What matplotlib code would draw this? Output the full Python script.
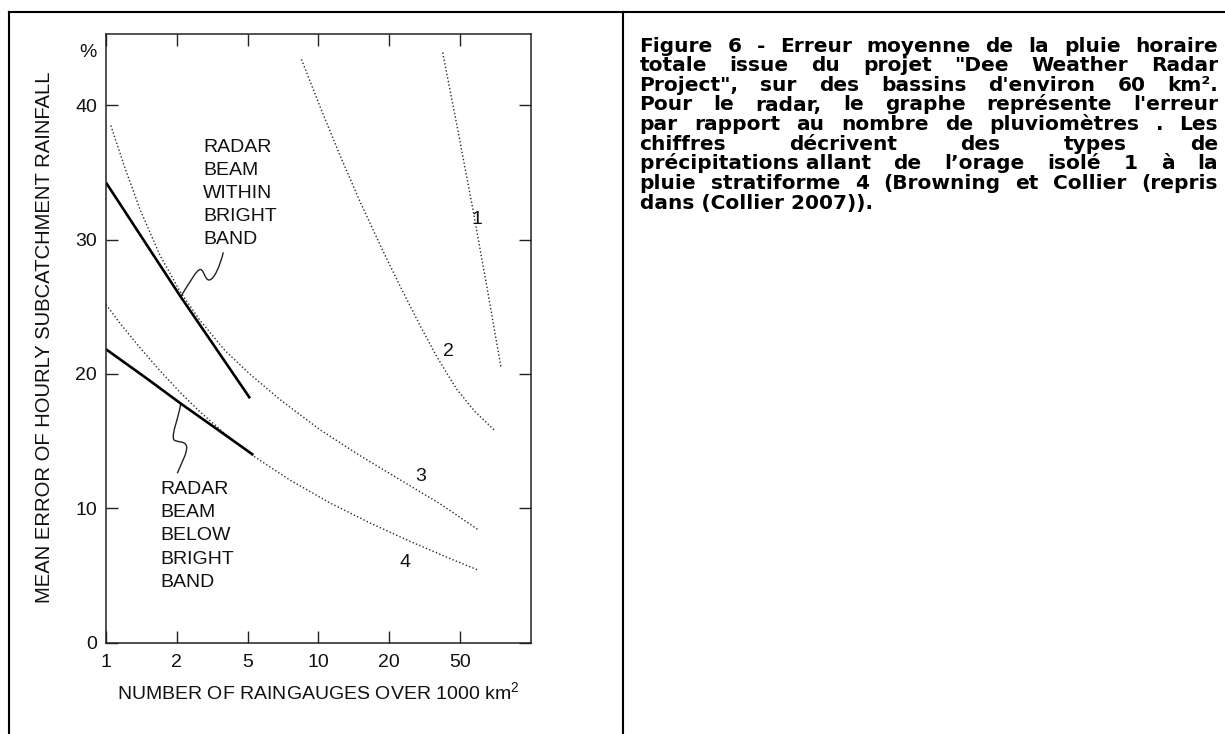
import numpy as np
import matplotlib
matplotlib.use("Agg")
import matplotlib.pyplot as plt
from matplotlib.lines import Line2D
from matplotlib.path import Path
from matplotlib.patches import PathPatch
from matplotlib.ticker import NullLocator, FixedLocator, FixedFormatter

plt.rcParams['font.family'] = ['Liberation Sans', 'DejaVu Sans']
plt.rcParams['mathtext.fontset'] = 'custom'
plt.rcParams['mathtext.rm'] = 'Liberation Sans'
plt.rcParams['mathtext.it'] = 'Liberation Sans'

# ---------------- data ----------------
x_ticks = [1, 2, 5, 10, 20, 50]
x_scale_nodes = [1, 2, 5, 10, 20, 50, 100]
y_ticks = [0, 10, 20, 30, 40]

# curve 1 (isolated storm)
curve1_x = [39.95, 48.6, 56.8, 65.4, 74.6]
curve1_y = [43.92, 38.16, 32.20, 26.25, 20.54]

# curve 2
curve2_x = [8.47, 10.16, 12.36, 15.03, 18.88, 22.99, 29.89, 37.07, 47.76, 57.95, 69.92]
curve2_y = [43.41, 39.90, 36.25, 32.82, 29.09, 26.55, 23.57, 21.27, 18.88, 17.18, 15.82]

# curve 3
curve3_x = [1.048, 1.2045, 1.395, 1.697, 2.085, 2.70, 3.73, 5.12, 6.87, 10.16, 15.03, 23.0, 38.6, 59.9]
curve3_y = [38.49, 35.32, 32.24, 28.82, 26.14, 23.98, 21.74, 19.97, 18.08, 15.84, 13.91, 12.12, 10.33, 8.38]

# curve 4 (stratiform)
curve4_x = [1.0, 1.147, 1.395, 1.697, 2.085, 2.70, 3.73, 5.29, 7.57, 11.20, 16.57, 26.18, 43.9, 59.4]
curve4_y = [25.16, 23.76, 21.94, 20.23, 18.63, 17.17, 15.54, 13.89, 12.09, 10.39, 8.90, 7.53, 6.25, 5.41]

# radar, beam within bright band
within_x = [1.0, 2.10, 5.12]
within_y = [34.24, 25.75, 18.18]

# radar, beam below bright band
below_x = [1.0, 1.5, 2.10, 3.35, 5.29]
below_y = [21.83, 19.62, 17.80, 15.90, 13.96]

curve_labels = ['1', '2', '3', '4']
curve_label_x = [59.2, 43.0, 30.1, 24.6]
curve_label_y = [31.5, 21.65, 12.35, 5.94]

within_text = ['RADAR', 'BEAM', 'WITHIN', 'BRIGHT', 'BAND']
below_text = ['RADAR', 'BEAM', 'BELOW', 'BRIGHT', 'BAND']

caption_lines = [
    ['Figure', '6', '-', 'Erreur', 'moyenne', 'de', 'la', 'pluie', 'horaire'],
    ['totale', 'issue', 'du', 'projet', '"Dee', 'Weather', 'Radar'],
    ['Project",', 'sur', 'des', 'bassins', "d'environ", '60', 'km².'],
    ['Pour', 'le', 'radar,', 'le', 'graphe', 'représente', "l'erreur"],
    ['par', 'rapport', 'au', 'nombre', 'de', 'pluviomètres', '.', 'Les'],
    ['chiffres', 'décrivent', 'des', 'types', 'de'],
    ['précipitations allant', 'de', 'l’orage', 'isolé', '1', 'à', 'la'],
    ['pluie', 'stratiforme', '4', '(Browning', 'et', 'Collier', '(repris'],
    ['dans (Collier 2007)).'],
]

# ---------------- figure ----------------
W, H = 1225, 734
fig = plt.figure(figsize=(W / 100, H / 100), dpi=100)
fig.patch.set_facecolor('white')

ax_left, ax_right, ax_top, ax_bottom = 106, 530.8, 34, 642.5
ax = fig.add_axes([ax_left / W, 1 - ax_bottom / H,
                   (ax_right - ax_left) / W, (ax_bottom - ax_top) / H])

log_nodes = np.log10(x_scale_nodes)
pos_nodes = np.arange(len(x_scale_nodes), dtype=float)


def fwd(x):
    x = np.asarray(x, dtype=float)
    return np.interp(np.log10(np.clip(x, 1e-9, None)), log_nodes, pos_nodes)


def inv(p):
    p = np.asarray(p, dtype=float)
    return 10 ** np.interp(p, pos_nodes, log_nodes)


ax.set_xscale('function', functions=(fwd, inv))
ax.set_xlim(1, 100)
ax.set_ylim(0, 45.3)

dot_style = dict(color='#2a2a2a', lw=1.0, linestyle=(0, (1.0, 1.6)))
for cx, cy in [(curve1_x, curve1_y), (curve2_x, curve2_y),
               (curve3_x, curve3_y), (curve4_x, curve4_y)]:
    ax.plot(cx, cy, **dot_style)

ax.plot(within_x, within_y, color='black', lw=1.9, solid_capstyle='butt')
ax.plot(below_x, below_y, color='black', lw=1.9, solid_capstyle='butt')

fs = 14
for lab, lx, ly in zip(curve_labels, curve_label_x, curve_label_y):
    ax.text(lx, ly, lab, fontsize=fs, ha='center', va='center', color='#111')


def px2ax(X, Y):
    return ((X - ax_left) / (ax_right - ax_left),
            (ax_bottom - Y) / (ax_bottom - ax_top))


for i, t in enumerate(within_text):
    fx, fy = px2ax(203.3, 151.7 + i * 23.2)
    ax.text(fx, fy, t, transform=ax.transAxes, fontsize=fs, ha='left',
            va='baseline', color='#111')
for i, t in enumerate(below_text):
    fx, fy = px2ax(160, 494.3 + i * 23.1)
    ax.text(fx, fy, t, transform=ax.transAxes, fontsize=fs, ha='left',
            va='baseline', color='#111')


def leader(pts):
    verts = [px2ax(*p) for p in pts]
    codes = [Path.MOVETO] + [Path.CURVE4] * (len(verts) - 1)
    ax.add_patch(PathPatch(Path(verts, codes), fill=False, lw=1.0,
                           edgecolor='#222', transform=ax.transAxes,
                           clip_on=False))


leader([(223.3, 252.3), (220, 266), (214, 280), (209, 280),
        (205, 280), (204, 270), (200.5, 269.5),
        (196.5, 269.5), (190, 282), (180.7, 296.7)])
leader([(180.7, 404), (178, 420), (172, 432), (173.5, 439),
        (175, 443), (185, 440), (186.5, 446),
        (188, 452), (181, 464), (177.3, 473.3)])

# ticks
ax.xaxis.set_major_locator(FixedLocator(x_ticks))
ax.xaxis.set_major_formatter(FixedFormatter([str(v) for v in x_ticks]))
ax.xaxis.set_minor_locator(NullLocator())
ax.set_yticks(y_ticks)
ax.set_yticklabels([str(v) for v in y_ticks])
ax.yaxis.set_minor_locator(NullLocator())
ax.tick_params(axis='both', which='major', direction='in', length=8.6,
               width=1.0, color='#222', labelsize=fs, labelcolor='#111',
               top=True, right=True)
ax.tick_params(axis='x', pad=8.0)
ax.tick_params(axis='y', pad=6.5)
for s in ax.spines.values():
    s.set_linewidth(1.1)
    s.set_color('#222')

ax.annotate('%', xy=(0, 43.9), xycoords=('axes fraction', 'data'),
            xytext=(-6.5, 0), textcoords='offset points', ha='right',
            va='center', fontsize=fs, color='#111')

fx, fy = px2ax(318.5, 692.5)
ax.text(fx, fy, 'NUMBER OF RAINGAUGES OVER 1000 km$^{2}$', transform=ax.transAxes,
        fontsize=fs, ha='center', va='center', color='#111')
fx, fy = px2ax(45, 337)
ax.text(fx, fy, 'MEAN ERROR OF HOURLY SUBCATCHMENT RAINFALL', transform=ax.transAxes,
        fontsize=14.6, ha='center', va='center', rotation=90, color='#111')


# frame lines (figure pixels)
def fline(x0, y0, x1, y1):
    fig.add_artist(Line2D([x0 / W, x1 / W], [1 - y0 / H, 1 - y1 / H],
                          transform=fig.transFigure, color='black', lw=1.5))


fline(9, 12.3, W + 5, 12.3)
fline(9, 12.3, 9, H + 5)
fline(622.7, 12.3, 622.7, H + 5)

# justified caption
renderer = fig.canvas.get_renderer()
cap_left, cap_right = 639.5, 1218.0
base0, step = 51.7, 19.6
cap_fs = 14.5
for li, words in enumerate(caption_lines):
    yb = 1 - (base0 + li * step) / H
    texts = [fig.text(cap_left / W, yb, w, fontsize=cap_fs, fontweight='bold',
                      family=['DejaVu Sans'], ha='left', va='baseline',
                      color='black') for w in words]
    if li == len(caption_lines) - 1 or len(words) == 1:
        continue
    widths = [t.get_window_extent(renderer).width for t in texts]
    gap = (cap_right - cap_left - sum(widths)) / (len(words) - 1)
    x = cap_left
    for t, wd in zip(texts, widths):
        t.set_x(x / W)
        x += wd + gap

fig.savefig('out.png', dpi=100, facecolor='white')
